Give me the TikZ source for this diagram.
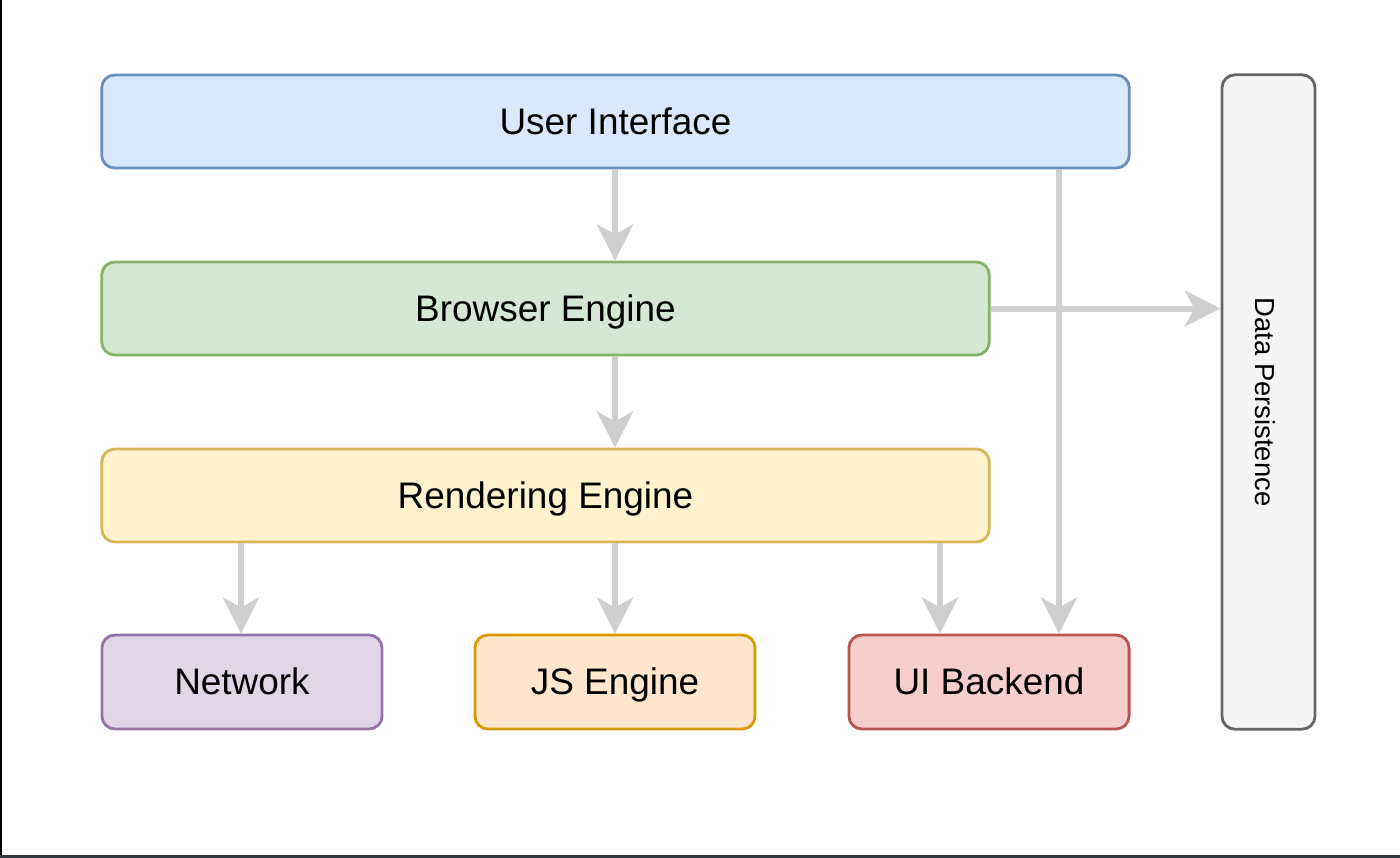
\documentclass[tikz,border=0pt]{standalone}
\usepackage{fontspec}
\setmainfont{Liberation Sans}
\usetikzlibrary{arrows.meta}
\definecolor{uifill}{HTML}{DAE8FC}\definecolor{uidraw}{HTML}{6C8EBF}
\definecolor{befill}{HTML}{D5E8D4}\definecolor{bedraw}{HTML}{82B366}
\definecolor{refill}{HTML}{FFF2CC}\definecolor{redraw}{HTML}{D6B656}
\definecolor{nefill}{HTML}{E1D5E7}\definecolor{nedraw}{HTML}{9673A6}
\definecolor{jsfill}{HTML}{FFE6CC}\definecolor{jsdraw}{HTML}{D79B00}
\definecolor{ubfill}{HTML}{F8CECC}\definecolor{ubdraw}{HTML}{B85450}
\definecolor{dpfill}{HTML}{F5F5F5}\definecolor{dpdraw}{HTML}{666666}
\definecolor{conncol}{HTML}{CFCFCF}
\definecolor{framebot}{HTML}{343A42}
\begin{document}
\begin{tikzpicture}[x=0.01cm,y=-0.01cm,
  box/.style={draw, rounded corners=0.13cm, line width=0.8pt, inner sep=0pt,
    font=\fontsize{10.5}{12}\selectfont, text height=0.72em, text depth=0pt},
  conn/.style={draw=conncol, line width=1.7pt,
    -{Stealth[length=0.36cm,width=0.36cm,inset=0.1cm]}}]
\useasboundingbox (0,0) rectangle (1400,857);
\draw[line width=1.2pt] (0,0) -- (0,857);
\draw[line width=1.2pt, framebot] (0,857) -- (1400,857);
\node[box, fill=uifill, draw=uidraw, minimum width=10.27cm, minimum height=0.93cm] (ui) at (615.5,121.5) {User Interface};
\node[box, fill=befill, draw=bedraw, minimum width=8.87cm, minimum height=0.93cm] (be) at (545.5,308.5) {Browser Engine};
\node[box, fill=refill, draw=redraw, minimum width=8.87cm, minimum height=0.93cm] (re) at (545.5,495.5) {Rendering Engine};
\node[box, fill=nefill, draw=nedraw, minimum width=2.8cm, minimum height=0.94cm] (ne) at (242,682) {Network};
\node[box, fill=jsfill, draw=jsdraw, minimum width=2.8cm, minimum height=0.94cm] (js) at (615,682) {JS Engine};
\node[box, fill=ubfill, draw=ubdraw, minimum width=2.8cm, minimum height=0.94cm] (ub) at (989,682) {UI Backend};
\node[box, fill=dpfill, draw=dpdraw, rotate=-90, minimum width=6.54cm, minimum height=0.93cm,
  font=\fontsize{7.8}{9}\selectfont] (dp) at (1268.5,402) {Data Persistence};
\coordinate (ca) at (241,0);
\coordinate (cb) at (615,0);
\coordinate (cc) at (940,0);
\coordinate (cd) at (1059,0);
\draw[conn] (ui.south -| cb) -- (be.north -| cb);
\draw[conn] (be.south -| cb) -- (re.north -| cb);
\draw[conn] (re.south -| ca) -- (ne.north -| ca);
\draw[conn] (re.south -| cb) -- (js.north -| cb);
\draw[conn] (re.south -| cc) -- (ub.north -| cc);
\draw[conn] (ui.south -| cd) -- (ub.north -| cd);
\draw[conn] (be.east) -- (be.east -| dp.south);
\end{tikzpicture}
\end{document}
